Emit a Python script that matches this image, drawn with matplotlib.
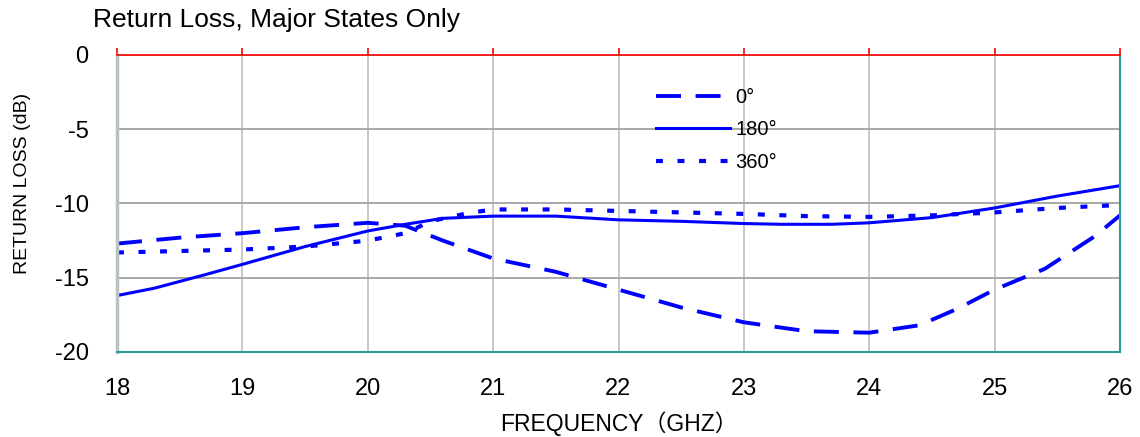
import matplotlib.pyplot as plt
import numpy as np

plt.rcParams['font.family'] = ['Liberation Sans', 'Noto Sans CJK SC', 'DejaVu Sans']
plt.rcParams['lines.scale_dashes'] = False
plt.rcParams['axes.unicode_minus'] = False

# readings (GHz, dB)
freq_0 = [18, 18.5, 19, 19.5, 20, 20.3, 20.6, 21, 21.5, 22, 22.5, 23, 23.5, 24, 24.4, 24.7, 25, 25.4, 25.8, 26]
rl_0 = [-12.7, -12.3, -12.0, -11.6, -11.3, -11.5, -12.5, -13.7, -14.6, -15.8, -17.0, -18.0, -18.6, -18.7, -18.2, -17.1, -15.8, -14.4, -12.2, -10.8]

freq_180 = [18, 18.3, 18.7, 19, 19.5, 20, 20.3, 20.6, 21, 21.5, 22, 22.5, 23, 23.3, 23.7, 24, 24.5, 25, 25.5, 26]
rl_180 = [-16.2, -15.7, -14.8, -14.1, -12.9, -11.85, -11.4, -11.0, -10.85, -10.85, -11.1, -11.2, -11.35, -11.4, -11.4, -11.3, -10.95, -10.3, -9.5, -8.8]

freq_360 = [18, 18.5, 19, 19.5, 20, 20.3, 20.5, 20.8, 21, 21.5, 22, 22.5, 23, 23.5, 24, 24.5, 25, 25.5, 26]
rl_360 = [-13.3, -13.2, -13.1, -12.9, -12.5, -12.0, -11.2, -10.65, -10.4, -10.4, -10.5, -10.6, -10.7, -10.85, -10.9, -10.8, -10.6, -10.3, -10.1]

fig = plt.figure(figsize=(11.4, 4.37), dpi=100)
ax = fig.add_axes([117 / 1140, (437 - 352) / 437, 1003 / 1140, 297 / 437])

blue = '#0000ff'
ax.plot(freq_0, rl_0, color=blue, lw=2.8, dashes=(18, 10.5), label='0°')
ax.plot(freq_180, rl_180, color=blue, lw=2.2, label='180°')
ax.plot(freq_360, rl_360, color=blue, lw=3.0, dashes=(5, 10.5), label='360°')

ax.set_xlim(18, 26)
ax.set_ylim(-20, 0)
ax.set_xticks(np.arange(18, 27, 1))
ax.set_yticks(np.arange(-20, 1, 5))

ax.grid(axis='x', color='#c8c8c8', lw=1.4)
ax.grid(axis='y', color='#a8a8a8', lw=1.4)
ax.set_axisbelow(True)

ax.spines['top'].set_color('#ff0000')
ax.spines['top'].set_linewidth(1.2)
ax.spines['right'].set_color('#2a9a9a')
ax.spines['right'].set_linewidth(1.5)
ax.spines['bottom'].set_color('#2a9a9a')
ax.spines['bottom'].set_linewidth(1.5)
ax.spines['left'].set_color('#b8c4c4')
ax.spines['left'].set_linewidth(2.5)

ax.tick_params(axis='x', bottom=False, top=True, direction='out', color='#ff0000',
               length=5, width=1.2, labelsize=17, pad=14)
ax.tick_params(axis='y', left=False, labelsize=17, pad=17)

ax.set_xlabel('FREQUENCY（GHZ）', fontsize=16.5, labelpad=8)
ax.set_ylabel('RETURN LOSS (dB)', fontsize=14, labelpad=10)
ax.yaxis.set_label_coords(-0.086, 0.566)
fig.text(93 / 1140, 1 - 20 / 437, 'Return Loss, Major States Only', fontsize=19, va='center', ha='left')

leg = ax.legend(loc='upper left', bbox_to_anchor=(0.519, 0.95), frameon=False,
                fontsize=14.5, handlelength=3.7, handletextpad=0.25, labelspacing=0.66)

fig.savefig('out.png', dpi=100)
